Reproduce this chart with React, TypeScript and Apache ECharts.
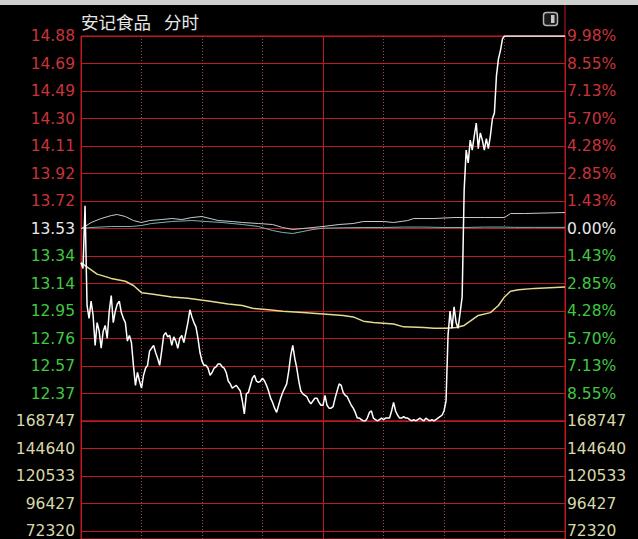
import React, { useEffect, useRef } from "react";
import * as echarts from "echarts";

// ---- data ----
const stockName = "安记食品";
const viewName = "分时";
const prevClose = 13.53;
const limitPct = 9.98;
const stepPct = limitPct / 7;

// tick labels, index 0 = bottom line (-7 steps) ... index 14 = top line (+7 steps)
const priceTickLabels = ["12.18", "12.37", "12.57", "12.76", "12.95", "13.14", "13.34", "13.53", "13.72", "13.92", "14.11", "14.30", "14.49", "14.69", "14.88"];
const pctTickLabels = ["9.98%", "8.55%", "7.13%", "5.70%", "4.28%", "2.85%", "1.43%", "0.00%", "1.43%", "2.85%", "4.28%", "5.70%", "7.13%", "8.55%", "9.98%"];
// volume panel tick labels, from the top line downwards
const volumeTickLabels = ["168747", "144640", "120533", "96427", "72320"];

// minute prices, index = minute (0..240)
const minutePrices = [
  13.29, 13.25, 13.69, 12.99, 12.90, 13.02, 12.92, 12.71, 12.87, 12.81,
  12.69, 12.81, 12.85, 12.76, 12.95, 13.06, 12.87, 12.95, 13.00, 13.02,
  12.94, 12.90, 12.87, 12.74, 12.78, 12.73, 12.57, 12.43, 12.52, 12.46,
  12.41, 12.50, 12.55, 12.57, 12.67, 12.69, 12.71, 12.66, 12.62, 12.57,
  12.67, 12.78, 12.80, 12.77, 12.78, 12.71, 12.77, 12.74, 12.69, 12.76,
  12.78, 12.73, 12.80, 12.87, 12.96, 12.91, 12.87, 12.84, 12.76, 12.66,
  12.60, 12.57, 12.57, 12.55, 12.50, 12.52, 12.55, 12.56, 12.58, 12.58,
  12.56, 12.55, 12.52, 12.46, 12.44, 12.41, 12.42, 12.43, 12.41, 12.39,
  12.32, 12.23, 12.37, 12.38, 12.43, 12.48, 12.50, 12.46, 12.45, 12.46,
  12.48, 12.46, 12.43, 12.39, 12.34, 12.31, 12.27, 12.24, 12.29, 12.34,
  12.38, 12.41, 12.44, 12.53, 12.64, 12.71, 12.62, 12.55, 12.46, 12.39,
  12.37, 12.36, 12.35, 12.32, 12.30, 12.32, 12.34, 12.34, 12.31, 12.29,
  12.29, 12.36, 12.29, 12.27, 12.27, 12.28, 12.34, 12.39, 12.44, 12.43,
  12.38, 12.36, 12.35, 12.32, 12.29, 12.27, 12.24, 12.20, 12.20, 12.19,
  12.18, 12.18, 12.20, 12.24, 12.25, 12.20, 12.19, 12.18, 12.19, 12.20,
  12.19, 12.20, 12.20, 12.20, 12.25, 12.31, 12.25, 12.22, 12.20, 12.20,
  12.21, 12.20, 12.20, 12.19, 12.18, 12.19, 12.18, 12.19, 12.20, 12.19,
  12.18, 12.20, 12.19, 12.18, 12.19, 12.18, 12.19, 12.20, 12.21, 12.22,
  12.25, 12.32, 12.78, 12.95, 12.83, 12.98, 12.87, 12.83, 12.94, 13.05,
  13.80, 14.08, 13.99, 14.15, 14.08, 14.18, 14.27, 14.09, 14.20, 14.15,
  14.08, 14.16, 14.09, 14.18, 14.30, 14.34, 14.60, 14.72, 14.78, 14.86,
  14.88, 14.88, 14.88, 14.88, 14.88, 14.88, 14.88, 14.88, 14.88, 14.88,
  14.88, 14.88, 14.88, 14.88, 14.88, 14.88, 14.88, 14.88, 14.88, 14.88,
  14.88, 14.88, 14.88, 14.88, 14.88, 14.88, 14.88, 14.88, 14.88, 14.88,
  14.88,
];

// average price line
const avgMinutes = [0, 2, 4, 8, 15, 22, 26, 30, 35, 45, 53, 64, 73, 80, 85, 93, 100, 110, 120, 130, 135, 140, 145, 155, 160, 170, 175, 181, 186, 190, 193, 197, 203, 207, 210, 213, 217, 225, 240];
const avgPrices = [13.29, 13.27, 13.25, 13.21, 13.18, 13.16, 13.13, 13.08, 13.07, 13.05, 13.04, 13.02, 13.00, 12.99, 12.97, 12.96, 12.95, 12.94, 12.93, 12.92, 12.91, 12.88, 12.87, 12.86, 12.84, 12.835, 12.83, 12.83, 12.835, 12.85, 12.88, 12.92, 12.94, 12.99, 13.05, 13.09, 13.10, 13.11, 13.12];

// index overlay lines (price-equivalent)
const indexAMinutes = [0, 2, 5, 10, 15, 18, 22, 26, 30, 34, 40, 45, 50, 55, 60, 64, 68, 75, 80, 88, 95, 100, 105, 110, 115, 120, 128, 135, 140, 150, 155, 162, 165, 175, 185, 200, 210, 213, 220, 240];
const indexAPrices = [13.530, 13.544, 13.572, 13.600, 13.621, 13.628, 13.614, 13.586, 13.572, 13.586, 13.593, 13.600, 13.593, 13.607, 13.614, 13.600, 13.586, 13.579, 13.572, 13.565, 13.558, 13.537, 13.523, 13.530, 13.537, 13.544, 13.558, 13.565, 13.579, 13.579, 13.572, 13.586, 13.600, 13.600, 13.607, 13.607, 13.607, 13.635, 13.635, 13.642];
const indexBMinutes = [0, 5, 15, 25, 30, 35, 45, 55, 62, 70, 80, 88, 95, 100, 105, 110, 115, 120, 130, 140, 150, 160, 170, 180, 190, 200, 210, 215, 225, 240];
const indexBPrices = [13.530, 13.537, 13.544, 13.544, 13.551, 13.565, 13.579, 13.586, 13.579, 13.572, 13.558, 13.544, 13.516, 13.502, 13.495, 13.509, 13.523, 13.532, 13.535, 13.537, 13.537, 13.540, 13.540, 13.537, 13.537, 13.540, 13.540, 13.538, 13.538, 13.538];

const toStep = (p: number) => ((p / prevClose - 1) * 100) / stepPct;

const RED = "#be1a22";
const DASH = "#a04a4e";
const UP = "#c8343a";
const DOWN = "#40c840";
const FLAT = "#e8e8e8";
const VOL = "#d8d8a8";
const LABEL_FONT = "DejaVu Sans";
const LABEL_SIZE = 15.5;

export default function App() {
  const ref = useRef<HTMLDivElement>(null);

  useEffect(() => {
    if (!ref.current) return;
    const chart = echarts.init(ref.current, undefined, { renderer: "svg" });

    const hidden = { show: false };
    const xAxisBase = (gridIndex: number, interval: number, solid: boolean) => ({
      gridIndex,
      type: "value",
      min: 0,
      max: 240,
      interval,
      axisLine: hidden,
      axisTick: hidden,
      axisLabel: hidden,
      splitLine: {
        show: true,
        lineStyle: solid ? { color: RED, width: 1, type: "solid" } : { color: DASH, width: 1, type: [1, 2] },
      },
    });

    const priceColor = (v: any) => {
      const n = Math.round(Number(v));
      return n > 0 ? UP : n < 0 ? DOWN : FLAT;
    };

    // volume panel: 27.5px per step, visible from the price panel bottom to the page bottom
    const volStepPx = 27.5;
    const volHeight = 118;

    const option: any = {
      backgroundColor: "#000000",
      animation: false,
      grid: [
        { left: 81, top: 36, width: 484, height: 385, show: true, borderColor: RED, borderWidth: 1, backgroundColor: "transparent", outerBoundsMode: "none" },
        { left: 81, top: 421, width: 484, height: volHeight, show: true, borderColor: RED, borderWidth: 1, backgroundColor: "transparent", outerBoundsMode: "none" },
      ],
      xAxis: [xAxisBase(0, 30, false), xAxisBase(0, 120, true), xAxisBase(1, 30, false), xAxisBase(1, 120, true)],
      yAxis: [
        {
          gridIndex: 0,
          type: "value",
          position: "left",
          min: -7,
          max: 7,
          interval: 1,
          axisLine: hidden,
          axisTick: hidden,
          splitLine: { show: true, lineStyle: { color: RED, width: 1 } },
          axisLabel: {
            showMinLabel: false,
            margin: 6,
            fontFamily: LABEL_FONT,
            fontSize: LABEL_SIZE,
            color: priceColor,
            formatter: (v: number) => priceTickLabels[Math.round(v) + 7] ?? "",
          },
        },
        {
          gridIndex: 0,
          type: "value",
          position: "right",
          min: -7,
          max: 7,
          interval: 1,
          axisLine: hidden,
          axisTick: hidden,
          splitLine: hidden,
          axisLabel: {
            showMinLabel: false,
            margin: 2,
            fontFamily: LABEL_FONT,
            fontSize: LABEL_SIZE,
            color: priceColor,
            formatter: (v: number) => pctTickLabels[Math.round(v) + 7] ?? "",
          },
        },
        {
          gridIndex: 1,
          type: "value",
          position: "left",
          inverse: true,
          min: 0,
          max: volHeight / volStepPx,
          interval: 1,
          axisLine: hidden,
          axisTick: hidden,
          splitLine: { show: true, lineStyle: { color: RED, width: 1 } },
          axisLabel: {
            margin: 6,
            showMaxLabel: false,
            fontFamily: LABEL_FONT,
            fontSize: LABEL_SIZE,
            color: VOL,
            formatter: (v: number) => volumeTickLabels[Math.round(v)] ?? "",
          },
        },
        {
          gridIndex: 1,
          type: "value",
          position: "right",
          inverse: true,
          min: 0,
          max: volHeight / volStepPx,
          interval: 1,
          axisLine: hidden,
          axisTick: hidden,
          splitLine: hidden,
          axisLabel: {
            margin: 2,
            showMaxLabel: false,
            fontFamily: LABEL_FONT,
            fontSize: LABEL_SIZE,
            color: VOL,
            formatter: (v: number) => volumeTickLabels[Math.round(v)] ?? "",
          },
        },
      ],
      series: [
        {
          type: "line",
          xAxisIndex: 0,
          yAxisIndex: 0,
          symbol: "none",
          silent: true,
          z: 3,
          data: indexBMinutes.map((m, i) => [m, toStep(indexBPrices[i])]),
          lineStyle: { color: "#78b4b4", width: 1 },
        },
        {
          type: "line",
          xAxisIndex: 0,
          yAxisIndex: 0,
          symbol: "none",
          silent: true,
          z: 3,
          data: indexAMinutes.map((m, i) => [m, toStep(indexAPrices[i])]),
          lineStyle: { color: "#c4cccc", width: 1 },
        },
        {
          type: "line",
          xAxisIndex: 1,
          yAxisIndex: 0,
          symbol: "none",
          silent: true,
          z: 4,
          data: avgMinutes.map((m, i) => [m, toStep(avgPrices[i])]),
          lineStyle: { color: "#e2da8c", width: 1.5 },
        },
        {
          type: "line",
          xAxisIndex: 0,
          yAxisIndex: 0,
          symbol: "none",
          silent: true,
          z: 5,
          data: minutePrices.map((p, m) => [m, toStep(p)]),
          lineStyle: { color: "#ffffff", width: 1.5 },
        },
      ],
      graphic: [
        { type: "rect", shape: { x: 0, y: 0, width: 638, height: 5 }, style: { fill: "#cfcfcf" }, silent: true },
        { type: "line", shape: { x1: 565, y1: 5, x2: 565, y2: 36 }, style: { stroke: RED, lineWidth: 1 }, silent: true },
        {
          type: "text",
          x: 81,
          y: 21,
          style: { text: stockName, fill: "#e6e6e6", font: '17.5px "Noto Sans CJK SC"', verticalAlign: "middle", textAlign: "left" },
          silent: true,
        },
        {
          type: "text",
          x: 164,
          y: 21,
          style: { text: viewName, fill: "#e6e6e6", font: '17.5px "Noto Sans CJK SC"', verticalAlign: "middle", textAlign: "left" },
          silent: true,
        },
        { type: "rect", shape: { x: 543.5, y: 12.5, width: 14, height: 13, r: 3 }, style: { fill: "#1a1a1a", stroke: "#b4b4b4", lineWidth: 1.5 }, silent: true },
        { type: "rect", shape: { x: 551, y: 15, width: 3.5, height: 8 }, style: { fill: "#c8c8c8" }, silent: true },
      ],
    };

    chart.setOption(option);
    return () => chart.dispose();
  }, []);

  return <div ref={ref} style={{ position: "fixed", left: 0, top: 0, width: 638, height: 539 }} />;
}
